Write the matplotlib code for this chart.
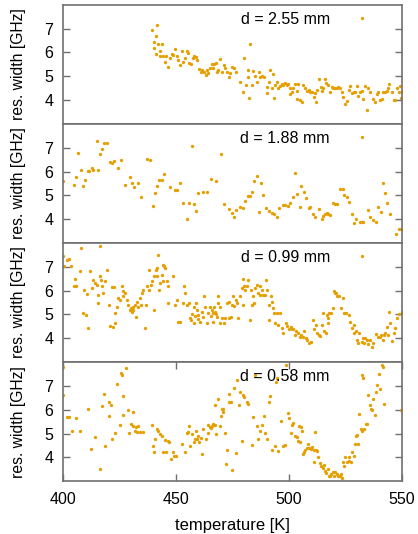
import matplotlib
matplotlib.use('Agg')
from matplotlib import pyplot as plt

# resonance width vs temperature, one panel per sample thickness
labels = ['d = 2.55 mm', 'd = 1.88 mm', 'd = 0.99 mm', 'd = 0.58 mm']

t_255 = [439.5, 441.6, 441.2, 440.1, 442.0, 443.7, 440.4, 442.9, 441.0, 442.9, 444.4, 445.6, 445.1, 446.6,
         447.3, 448.8, 449.4, 448.1, 450.3, 451.0, 451.8, 452.5, 452.9, 454.0, 454.7, 455.2, 455.9, 456.6,
         457.4, 458.1, 458.8, 459.4, 460.3, 460.9, 461.6, 462.5, 463.1, 463.6, 464.3, 465.1, 465.8, 466.2,
         466.8, 467.6, 468.0, 468.6, 469.5, 470.2, 471.0, 471.7, 472.4, 473.2, 473.9, 474.6, 475.4, 476.6,
         478.3, 479.5, 480.2, 480.8, 481.6, 482.0, 482.7, 482.4, 483.5, 484.2, 485.0, 485.7, 486.6, 487.2,
         487.9, 488.9, 490.1, 490.4, 490.9, 491.6, 492.3, 492.8, 493.1, 493.8, 494.5, 495.3, 496.0, 496.8,
         497.5, 498.2, 499.0, 499.4, 500.2, 500.4, 501.2, 501.9, 502.7, 503.4, 503.7, 504.1, 504.9, 505.5,
         506.0, 507.1, 507.8, 508.6, 509.3, 510.0, 510.8, 511.5, 511.9, 512.5, 513.4, 514.0, 514.6, 515.2,
         515.9, 516.4, 517.4, 518.1, 518.9, 519.6, 520.4, 521.1, 521.8, 522.6, 523.3, 524.0, 524.8, 525.5,
         526.3, 527.0, 527.7, 528.5, 529.2, 529.9, 530.7, 531.4, 532.2, 532.9, 533.6, 534.4, 535.1, 535.8,
         537.3, 538.1, 538.8, 539.5, 540.3, 541.0, 541.7, 542.5, 543.2, 543.9, 544.4, 545.4, 546.2, 546.9,
         547.6, 548.4, 549.1, 549.9, 549.4]
w_255 = [6.96, 7.16, 6.71, 6.44, 6.34, 6.37, 6.20, 6.06, 5.92, 5.84, 5.84, 5.83, 5.61, 5.38,
         5.76, 5.90, 6.15, 5.94, 5.83, 5.69, 5.47, 6.04, 5.61, 5.76, 6.08, 5.97, 5.54, 5.52,
         5.76, 5.83, 5.80, 5.69, 5.31, 5.19, 5.25, 5.19, 5.05, 5.25, 5.14, 5.33, 5.50, 5.33,
         5.53, 5.54, 5.19, 5.26, 5.73, 5.19, 5.47, 5.36, 5.19, 4.98, 5.12, 5.40, 5.33, 5.19,
         4.77, 4.35, 5.78, 4.63, 4.98, 5.26, 6.34, 4.07, 4.63, 5.22, 5.00, 4.75, 5.19, 4.98,
         5.01, 4.98, 4.56, 4.30, 4.77, 5.25, 4.49, 5.08, 4.07, 4.63, 4.75, 4.49, 4.58, 4.66,
         4.63, 4.72, 4.63, 4.69, 4.49, 4.24, 4.35, 4.49, 4.66, 4.38, 4.04, 4.69, 4.00, 3.90,
         4.63, 4.52, 4.38, 4.42, 4.35, 4.32, 4.14, 4.28, 3.90, 4.42, 4.89, 4.56, 4.38, 4.49,
         4.89, 4.70, 4.63, 4.32, 4.56, 4.52, 4.49, 4.49, 4.55, 4.49, 4.32, 4.14, 3.85, 3.96,
         4.42, 4.60, 4.28, 4.32, 4.35, 4.60, 4.18, 4.35, 4.38, 4.04, 4.60, 3.58, 4.49, 4.32,
         4.04, 3.90, 4.24, 4.32, 4.00, 4.04, 4.32, 4.35, 4.38, 4.49, 4.66, 4.35, 4.00, 4.00,
         4.49, 4.32, 4.60, 4.35, 4.07]

t_188 = [400.0, 404.6, 405.7, 406.8, 407.8, 408.7, 409.7, 410.9, 411.6, 412.7, 413.4, 414.9, 415.6, 416.4,
         417.1, 418.3, 419.3, 420.8, 421.5, 422.6, 424.5, 425.5, 427.4, 429.6, 430.4, 431.4, 433.3, 434.5,
         437.3, 438.5, 439.7, 440.7, 441.7, 442.6, 443.7, 444.7, 447.3, 449.6, 450.6, 451.5, 453.0, 454.7,
         455.9, 456.9, 457.7, 458.9, 459.9, 461.8, 463.6, 465.5, 467.7, 469.8, 471.0, 473.6, 474.6, 475.4,
         476.6, 478.3, 479.5, 480.5, 481.6, 482.7, 483.6, 484.5, 485.7, 486.7, 487.6, 488.6, 489.8, 491.3,
         492.3, 493.1, 494.5, 495.6, 497.2, 498.2, 499.3, 500.4, 501.6, 502.8, 503.7, 504.9, 505.3, 506.4,
         507.5, 508.6, 509.3, 510.5, 511.5, 513.4, 514.5, 515.2, 515.9, 516.7, 517.4, 518.1, 519.6, 520.4,
         521.4, 522.6, 523.7, 524.3, 525.5, 526.7, 527.7, 528.5, 529.6, 531.4, 532.2, 532.9, 534.7, 535.6,
         537.3, 538.5, 539.5, 540.6, 541.5, 542.5, 543.5, 544.7, 547.4, 548.4, 549.4]
w_188 = [5.61, 5.43, 5.76, 6.79, 6.08, 5.39, 5.66, 6.01, 6.01, 6.13, 6.08, 7.27, 6.06, 6.74,
         6.95, 7.19, 7.21, 6.39, 6.34, 6.46, 6.15, 6.50, 5.43, 5.78, 5.50, 5.33, 5.50, 4.91,
         6.53, 6.50, 4.56, 5.11, 5.38, 5.66, 5.66, 5.90, 5.35, 5.21, 5.21, 5.53, 4.69, 4.02,
         4.66, 7.06, 4.63, 4.35, 5.08, 5.15, 5.15, 5.67, 5.59, 6.74, 4.63, 4.42, 4.24, 4.07,
         4.38, 4.49, 4.48, 4.75, 4.98, 4.98, 5.12, 5.61, 5.83, 4.32, 5.53, 5.03, 4.46, 4.35,
         4.24, 4.21, 4.07, 4.46, 4.60, 4.60, 4.56, 4.66, 4.94, 5.92, 5.05, 4.52, 5.38, 5.12,
         4.89, 4.46, 4.49, 4.21, 4.07, 4.42, 4.00, 4.14, 4.21, 4.24, 4.21, 4.18, 4.66, 4.63,
         4.63, 5.28, 5.25, 5.03, 4.94, 4.72, 4.21, 3.85, 4.00, 3.89, 3.89, 3.89, 4.39, 4.07,
         3.97, 3.90, 4.53, 4.30, 5.53, 5.08, 4.66, 4.21, 3.37, 3.57, 3.57]

t_099 = [400.0, 400.4, 401.9, 402.8, 403.4, 404.6, 405.3, 405.7, 407.5, 407.8, 408.7, 409.3, 410.2, 410.5,
         411.2, 412.0, 412.7, 413.4, 414.2, 414.9, 415.3, 415.6, 416.1, 416.4, 416.7, 417.1, 417.8, 418.6,
         419.3, 420.1, 420.8, 421.5, 422.0, 422.6, 423.0, 423.0, 423.7, 424.5, 425.2, 426.0, 426.4, 426.7,
         427.4, 428.2, 428.9, 429.6, 430.1, 430.4, 430.8, 431.1, 431.9, 432.3, 432.6, 433.3, 434.1, 434.4,
         434.8, 435.5, 436.3, 436.7, 437.3, 437.8, 438.2, 438.8, 439.4, 440.0, 440.3, 440.9, 441.4, 441.7,
         442.2, 442.6, 442.9, 443.7, 444.1, 444.4, 444.8, 445.3, 445.9, 446.3, 446.6, 448.5, 449.6, 450.3,
         451.0, 451.8, 453.0, 453.5, 454.0, 454.7, 455.5, 456.2, 456.6, 456.9, 457.7, 458.1, 458.4, 458.8,
         459.1, 459.6, 459.9, 460.6, 461.4, 462.1, 462.5, 462.8, 463.6, 464.0, 464.8, 465.5, 465.8, 466.2,
         466.5, 466.8, 467.3, 467.7, 468.0, 468.4, 468.7, 469.2, 469.5, 470.2, 471.0, 471.7, 472.4, 473.2,
         473.6, 474.2, 474.6, 475.1, 475.7, 476.3, 476.8, 477.6, 478.3, 479.1, 479.5, 479.8, 480.2, 480.7,
         481.3, 482.0, 482.7, 483.0, 483.5, 484.2, 484.5, 485.0, 485.7, 486.4, 486.9, 487.2, 487.9, 488.6,
         489.4, 489.8, 490.4, 490.9, 491.3, 491.9, 492.3, 492.8, 493.1, 493.8, 494.5, 495.3, 496.0, 496.8,
         497.5, 498.7, 499.0, 500.1, 500.7, 501.3, 501.9, 502.4, 503.1, 503.8, 504.6, 505.3, 506.1, 506.8,
         507.5, 508.1, 509.0, 509.6, 510.5, 511.2, 512.0, 512.5, 513.3, 513.7, 514.5, 515.2, 515.6, 516.1,
         516.7, 517.1, 517.4, 517.8, 518.4, 519.3, 519.9, 520.4, 520.8, 521.4, 522.0, 522.9, 523.8, 524.3,
         525.2, 526.3, 527.0, 527.7, 528.5, 528.8, 529.4, 530.0, 530.4, 531.1, 532.2, 532.9, 533.2, 533.6,
         534.4, 535.1, 535.8, 536.6, 537.3, 538.5, 539.2, 540.0, 540.7, 541.4, 542.0, 542.5, 543.2, 543.7,
         544.3, 544.7, 545.4, 546.2, 546.9, 547.9, 548.8, 549.9]
w_099 = [7.44, 7.02, 7.27, 7.33, 7.02, 6.18, 6.48, 6.18, 6.81, 7.79, 5.05, 6.04, 4.97, 5.87,
         4.45, 6.81, 6.11, 6.46, 6.32, 6.25, 5.83, 5.47, 6.60, 7.86, 6.43, 6.18, 5.90, 6.39,
         6.88, 5.40, 4.52, 6.15, 4.49, 6.15, 4.63, 5.05, 5.33, 5.69, 5.61, 6.18, 5.76, 5.97,
         5.90, 5.61, 5.40, 5.19, 5.26, 5.12, 5.33, 5.19, 5.40, 4.91, 5.54, 5.33, 5.69, 5.40,
         5.90, 6.04, 4.45, 5.40, 6.18, 6.04, 6.85, 6.25, 6.39, 5.19, 6.60, 6.88, 6.95, 6.60,
         7.51, 6.04, 6.32, 6.67, 7.09, 6.39, 7.02, 6.95, 6.39, 6.18, 5.47, 6.60, 5.40, 5.61,
         4.70, 4.70, 5.47, 6.18, 5.90, 5.40, 5.50, 4.84, 4.75, 5.03, 5.33, 4.66, 4.94, 5.50,
         5.19, 4.80, 4.98, 4.70, 5.12, 4.91, 5.76, 5.33, 4.66, 5.05, 5.33, 4.94, 5.19, 5.05,
         4.70, 5.33, 5.12, 5.03, 4.89, 5.76, 5.47, 5.33, 4.66, 4.84, 4.66, 4.84, 5.47, 4.84,
         5.54, 4.89, 5.40, 5.76, 5.36, 5.59, 5.50, 4.84, 5.76, 6.11, 5.40, 6.48, 6.18, 6.04,
         6.18, 6.46, 4.77, 6.04, 5.40, 5.76, 5.50, 6.11, 6.25, 5.90, 6.18, 5.83, 6.04, 5.83,
         5.83, 6.46, 6.04, 5.40, 4.77, 5.76, 5.54, 5.26, 5.05, 4.63, 5.05, 4.56, 5.05, 4.42,
         4.24, 4.66, 4.52, 4.38, 4.46, 4.38, 4.38, 4.14, 4.32, 4.24, 4.07, 4.14, 4.04, 4.32,
         4.00, 3.93, 3.79, 3.85, 4.75, 4.38, 4.56, 4.24, 4.14, 4.10, 4.56, 5.05, 4.32, 4.24,
         4.98, 4.63, 4.84, 5.05, 5.05, 5.26, 5.97, 5.90, 5.90, 5.78, 5.76, 5.26, 5.69, 5.05,
         5.05, 4.98, 4.70, 4.42, 4.56, 4.21, 4.32, 3.93, 3.79, 4.21, 3.86, 4.00, 3.82, 4.00,
         3.93, 3.76, 3.93, 3.65, 3.82, 4.18, 4.04, 4.07, 4.14, 3.93, 4.13, 4.24, 4.49, 4.14,
         5.12, 4.63, 3.90, 4.21, 4.42, 4.84, 5.03, 5.12]

t_058 = [400.0, 400.0, 401.9, 402.8, 403.8, 405.8, 407.5, 411.2, 412.2, 414.2, 416.4, 417.1, 418.1, 418.6,
         420.2, 420.5, 421.1, 421.5, 423.0, 424.0, 425.2, 425.7, 426.1, 426.7, 426.7, 427.9, 428.9, 429.2,
         430.1, 430.8, 431.1, 431.9, 432.3, 432.9, 433.3, 433.8, 435.2, 439.2, 439.7, 440.3, 440.7, 441.5,
         441.9, 442.9, 443.7, 444.1, 445.1, 445.6, 446.3, 447.0, 447.6, 448.8, 449.1, 450.0, 452.5, 454.0,
         454.7, 455.3, 455.6, 456.2, 456.9, 457.7, 458.3, 458.9, 459.1, 459.7, 460.3, 460.9, 461.4, 462.1,
         463.3, 463.9, 464.3, 464.8, 465.3, 465.9, 466.5, 467.1, 467.4, 467.7, 468.4, 469.2, 469.8, 470.1,
         470.6, 470.9, 471.5, 472.1, 472.7, 473.2, 473.6, 474.2, 474.6, 475.4, 476.6, 477.1, 477.7, 478.3,
         479.1, 479.5, 480.2, 481.3, 482.0, 483.5, 483.9, 485.1, 485.7, 486.4, 487.2, 487.9, 488.9, 489.4,
         490.4, 490.9, 491.6, 492.3, 493.8, 494.3, 494.8, 495.3, 496.3, 497.5, 498.2, 498.7, 499.7, 500.1,
         500.7, 501.3, 501.9, 502.7, 503.4, 503.8, 504.3, 504.6, 505.2, 505.6, 506.1, 506.6, 507.2, 507.8,
         508.4, 509.0, 509.6, 510.2, 510.8, 511.1, 511.5, 512.0, 512.5, 513.0, 513.7, 514.3, 514.9, 515.3,
         515.8, 516.4, 517.0, 517.6, 518.1, 518.7, 519.3, 519.9, 520.5, 521.1, 521.7, 522.3, 522.9, 523.5,
         524.0, 524.5, 524.9, 525.5, 526.3, 526.7, 527.3, 527.9, 528.5, 529.1, 529.6, 529.9, 530.5, 531.1,
         531.7, 532.3, 532.9, 533.2, 533.8, 534.4, 535.0, 535.6, 536.2, 536.7, 537.3, 537.9, 538.5, 539.1,
         539.7, 540.3, 540.9, 541.5, 542.0, 549.6]
w_058 = [7.79, 6.60, 5.69, 5.69, 5.10, 5.66, 5.12, 6.01, 4.35, 4.84, 3.51, 6.15, 6.67, 4.49,
         5.73, 6.34, 6.20, 4.75, 5.03, 7.07, 5.36, 7.55, 7.47, 6.57, 5.78, 7.75, 5.97, 5.03,
         5.40, 5.90, 5.33, 5.12, 5.29, 5.08, 5.33, 5.08, 5.05, 5.36, 4.46, 4.24, 4.77, 5.17,
         5.12, 4.98, 4.89, 4.24, 4.73, 4.24, 4.69, 4.66, 3.93, 4.24, 4.04, 4.04, 4.56, 4.24,
         5.03, 5.08, 5.31, 4.49, 4.98, 4.66, 4.77, 5.12, 4.75, 4.89, 4.63, 4.80, 4.14, 5.19,
         4.77, 5.03, 5.36, 5.26, 5.22, 5.33, 5.39, 5.36, 6.20, 4.98, 6.46, 5.33, 5.73, 6.04,
         6.04, 5.92, 5.03, 3.72, 4.32, 6.34, 6.67, 6.32, 3.48, 6.93, 4.18, 7.23, 6.18, 6.74,
         4.69, 6.60, 6.53, 6.34, 6.25, 4.52, 5.69, 7.47, 5.33, 4.75, 5.12, 5.36, 5.73, 5.03,
         4.77, 6.34, 6.57, 4.32, 4.46, 7.16, 7.33, 4.28, 5.54, 4.49, 4.52, 7.89, 5.87, 5.64,
         5.03, 5.36, 5.45, 4.91, 4.84, 4.70, 5.33, 4.63, 5.26, 5.12, 4.14, 4.24, 4.32, 4.38,
         4.56, 4.38, 4.35, 4.42, 4.32, 3.79, 5.05, 4.32, 4.28, 4.00, 3.76, 3.65, 3.54, 3.68,
         3.44, 3.34, 3.51, 3.23, 3.23, 3.30, 3.40, 3.23, 3.37, 3.30, 3.23, 3.20, 3.30, 3.12,
         3.79, 3.62, 4.00, 3.82, 4.00, 3.86, 3.79, 4.24, 4.07, 4.56, 4.89, 4.94, 4.56, 5.83,
         5.19, 5.12, 7.33, 5.17, 5.40, 5.40, 6.60, 6.20, 6.04, 5.97, 6.46, 5.76, 6.74, 7.02,
         7.51, 6.88, 7.89, 7.79, 6.25, 5.98]

temps = [t_255, t_188, t_099, t_058]
widths = [w_255, w_188, w_099, w_058]

dot_color = '#e69f00'
frame_color = '#707070'

plt.rcParams['font.family'] = ['Liberation Sans', 'DejaVu Sans']
plt.rcParams['font.size'] = 11.5

fig, axes = plt.subplots(4, 1, figsize=(4.18, 5.34), dpi=100, sharex=True)
fig.subplots_adjust(left=0.151, right=0.962, top=0.991, bottom=0.099, hspace=0)

for i, ax in enumerate(axes):
    ax.plot(temps[i], widths[i], 'o', ms=2.4, color=dot_color, mec='none', label=labels[i])
    ax.set_xlim(400, 550)
    ax.set_ylim(3, 8)
    ax.set_yticks([4, 5, 6, 7])
    ax.set_ylabel('res. width [GHz]', fontsize=11.3, labelpad=13)
    for s in ax.spines.values():
        s.set_color(frame_color)
        s.set_linewidth(1.2)
    ax.tick_params(axis='y', direction='in', left=True, right=True, length=5, width=1,
                   color=frame_color, pad=7)
    if i == len(axes) - 1:
        ax.tick_params(axis='x', direction='in', top=True, bottom=True, length=5, width=1,
                       color=frame_color, pad=8)
    else:
        ax.tick_params(axis='x', top=False, bottom=False, labelbottom=False)
    ax.legend(loc='upper right', bbox_to_anchor=(0.947, 0.995), borderaxespad=0, frameon=False,
              markerfirst=False, numpoints=1, handlelength=2.0, handletextpad=1.0, fontsize=11.5)

axes[-1].set_xticks([400, 450, 500, 550])
axes[-1].set_xlabel('temperature [K]', fontsize=12, labelpad=8)

plt.savefig('out.png', dpi=100)
